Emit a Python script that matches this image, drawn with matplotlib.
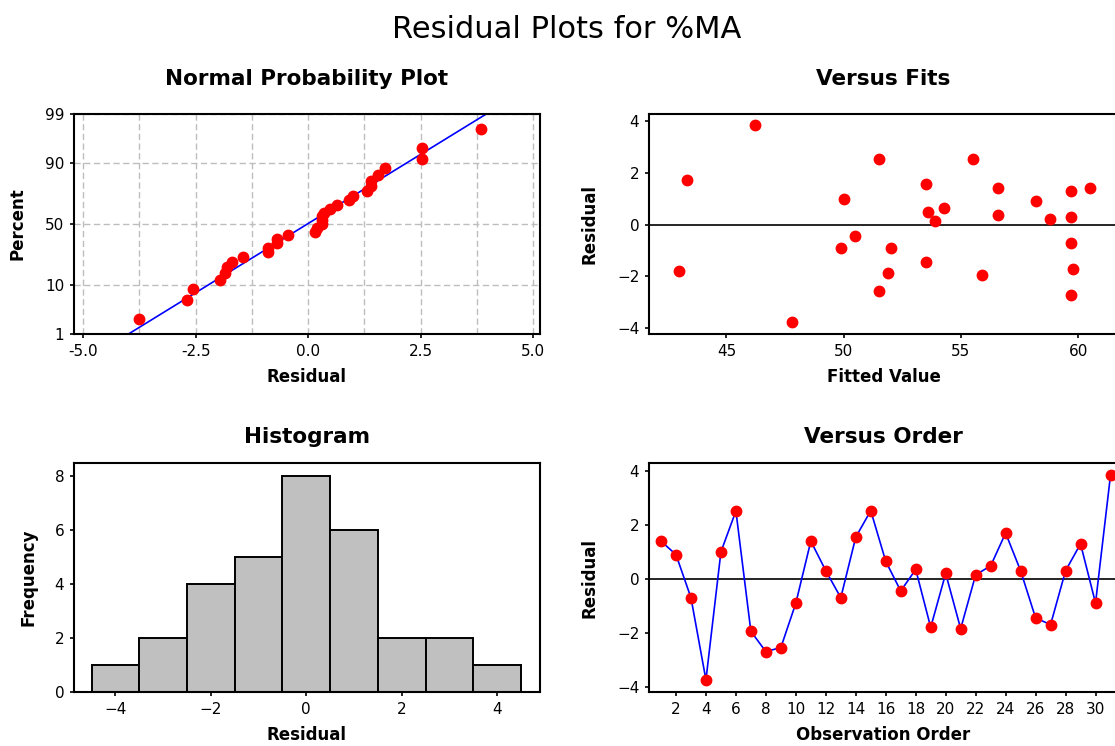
import numpy as np
import matplotlib
matplotlib.use('Agg')
import matplotlib.pyplot as plt
from statistics import NormalDist

# residuals in observation order
residual = [1.4, 0.9, -0.7, -3.75, 1.0, 2.52, -1.95, -2.7, -2.55, -0.9,
            1.4, 0.3, -0.7, 1.55, 2.53, 0.65, -0.45, 0.35, -1.8, 0.2,
            -1.85, 0.15, 0.48, 1.7, 0.3, -1.45, -1.7, 0.3, 1.3, -0.9, 3.85]
# fitted values for the same observations
fitted = [56.6, 58.2, 59.7, 47.8, 50.0, 51.5, 55.9, 59.7, 51.5, 49.9,
          60.5, 59.7, 62.3, 53.5, 55.5, 54.3, 50.5, 56.6, 43.0, 58.8,
          51.9, 53.9, 53.6, 43.3, 62.6, 53.5, 59.8, 62.9, 59.7, 52.0, 46.2]
order = list(range(1, len(residual) + 1))

prob_ticks = [1, 10, 50, 90, 99]
hist_edges = np.arange(-4.5, 5.0, 1.0)

res = np.array(residual)
nd = NormalDist()
ppf = np.vectorize(lambda p: nd.inv_cdf(min(max(p / 100.0, 1e-7), 1 - 1e-7)), otypes=[float])
cdf = np.vectorize(lambda z: nd.cdf(z) * 100.0, otypes=[float])

plt.rcParams['font.family'] = 'DejaVu Sans'
W, H = 1115, 746
fig = plt.figure(figsize=(W / 100, H / 100), dpi=100)
fig.patch.set_facecolor('white')


def box(l, r, t, b):
    return [l / W, 1 - b / H, (r - l) / W, (b - t) / H]


def style(ax):
    for s in ax.spines.values():
        s.set_linewidth(1.5)
        s.set_color('black')
    ax.tick_params(direction='out', length=2.8, width=1.2, labelsize=11,
                   top=False, right=False, pad=4.2)


TS = 15.5
LS = 12
MS = 7.5
XP = 6.5
dash = (0, (4.5, 2.5))

fig.text(0.5085, 0.949, 'Residual Plots for %MA', ha='center', va='baseline', fontsize=22)

# Normal probability plot
ax1 = fig.add_axes(box(74, 540, 114, 334))
ax1.set_yscale('function', functions=(ppf, cdf))
srt = np.sort(res)
n = len(srt)
pct = (np.arange(1, n + 1) - 0.3) / (n + 0.4) * 100
mu, sd = res.mean(), res.std(ddof=1)
zz = np.linspace(nd.inv_cdf(0.005), nd.inv_cdf(0.995), 50)
ax1.plot(mu + sd * zz, cdf(zz), color='blue', lw=1.2, zorder=2)
ax1.plot(srt, pct, 'o', color='red', ms=MS, zorder=3)
ax1.set_ylim(1, 99)
ax1.set_xlim(-5.2, 5.15)
ax1.set_yticks(prob_ticks)
ax1.set_yticklabels([str(v) for v in prob_ticks])
ax1.set_yticks([], minor=True)
ax1.set_xticks([-5, -2.5, 0, 2.5, 5])
ax1.set_xticklabels(['-5.0', '-2.5', '0.0', '2.5', '5.0'])
ax1.set_xticks([-3.75, -1.25, 1.25, 3.75], minor=True)
ax1.tick_params(which='minor', length=0)
ax1.grid(True, which='both', color='#bdbdbd', linestyle=dash, lw=1)
ax1.set_axisbelow(True)
style(ax1)
ax1.set_title('Normal Probability Plot', fontsize=TS, fontweight='bold', pad=21)
ax1.set_xlabel('Residual', fontsize=LS, fontweight='bold', labelpad=XP)
ax1.set_ylabel('Percent', fontsize=LS, fontweight='bold', labelpad=13)

# Versus fits
ax2 = fig.add_axes(box(649, 1118, 114, 334))
ax2.axhline(0, color='black', lw=1.2, zorder=1)
ax2.plot(fitted, residual, 'o', color='red', ms=MS, zorder=3)
ax2.set_xlim(41.7, 61.7)
ax2.set_ylim(-4.22, 4.26)
ax2.set_xticks([45, 50, 55, 60])
ax2.set_yticks([-4, -2, 0, 2, 4])
style(ax2)
ax2.set_title('Versus Fits', fontsize=TS, fontweight='bold', pad=21)
ax2.set_xlabel('Fitted Value', fontsize=LS, fontweight='bold', labelpad=XP)
ax2.set_ylabel('Residual', fontsize=LS, fontweight='bold', labelpad=13)

# Histogram
ax3 = fig.add_axes(box(74, 540, 463, 692))
ax3.hist(res, bins=hist_edges, color='#c0c0c0', edgecolor='black', linewidth=1.4)
ax3.set_xlim(-4.87, 4.9)
ax3.set_ylim(0, 8.5)
ax3.set_xticks([-4, -2, 0, 2, 4])
ax3.set_yticks([0, 2, 4, 6, 8])
style(ax3)
ax3.set_title('Histogram', fontsize=TS, fontweight='bold', pad=14.4)
ax3.set_xlabel('Residual', fontsize=LS, fontweight='bold', labelpad=XP)
ax3.set_ylabel('Frequency', fontsize=LS, fontweight='bold', labelpad=12)

# Versus order
ax4 = fig.add_axes(box(649, 1118, 463, 692))
ax4.axhline(0, color='black', lw=1.2, zorder=1)
ax4.plot(order, residual, '-', color='blue', lw=1.2, zorder=2)
ax4.plot(order, residual, 'o', color='red', ms=MS, zorder=3)
ax4.set_xlim(0.2, 31.5)
ax4.set_ylim(-4.2, 4.3)
ax4.set_xticks(list(range(2, 31, 2)))
ax4.set_yticks([-4, -2, 0, 2, 4])
style(ax4)
ax4.set_title('Versus Order', fontsize=TS, fontweight='bold', pad=14.4)
ax4.set_xlabel('Observation Order', fontsize=LS, fontweight='bold', labelpad=XP)
ax4.set_ylabel('Residual', fontsize=LS, fontweight='bold', labelpad=13)

fig.savefig('out.png', dpi=100)
